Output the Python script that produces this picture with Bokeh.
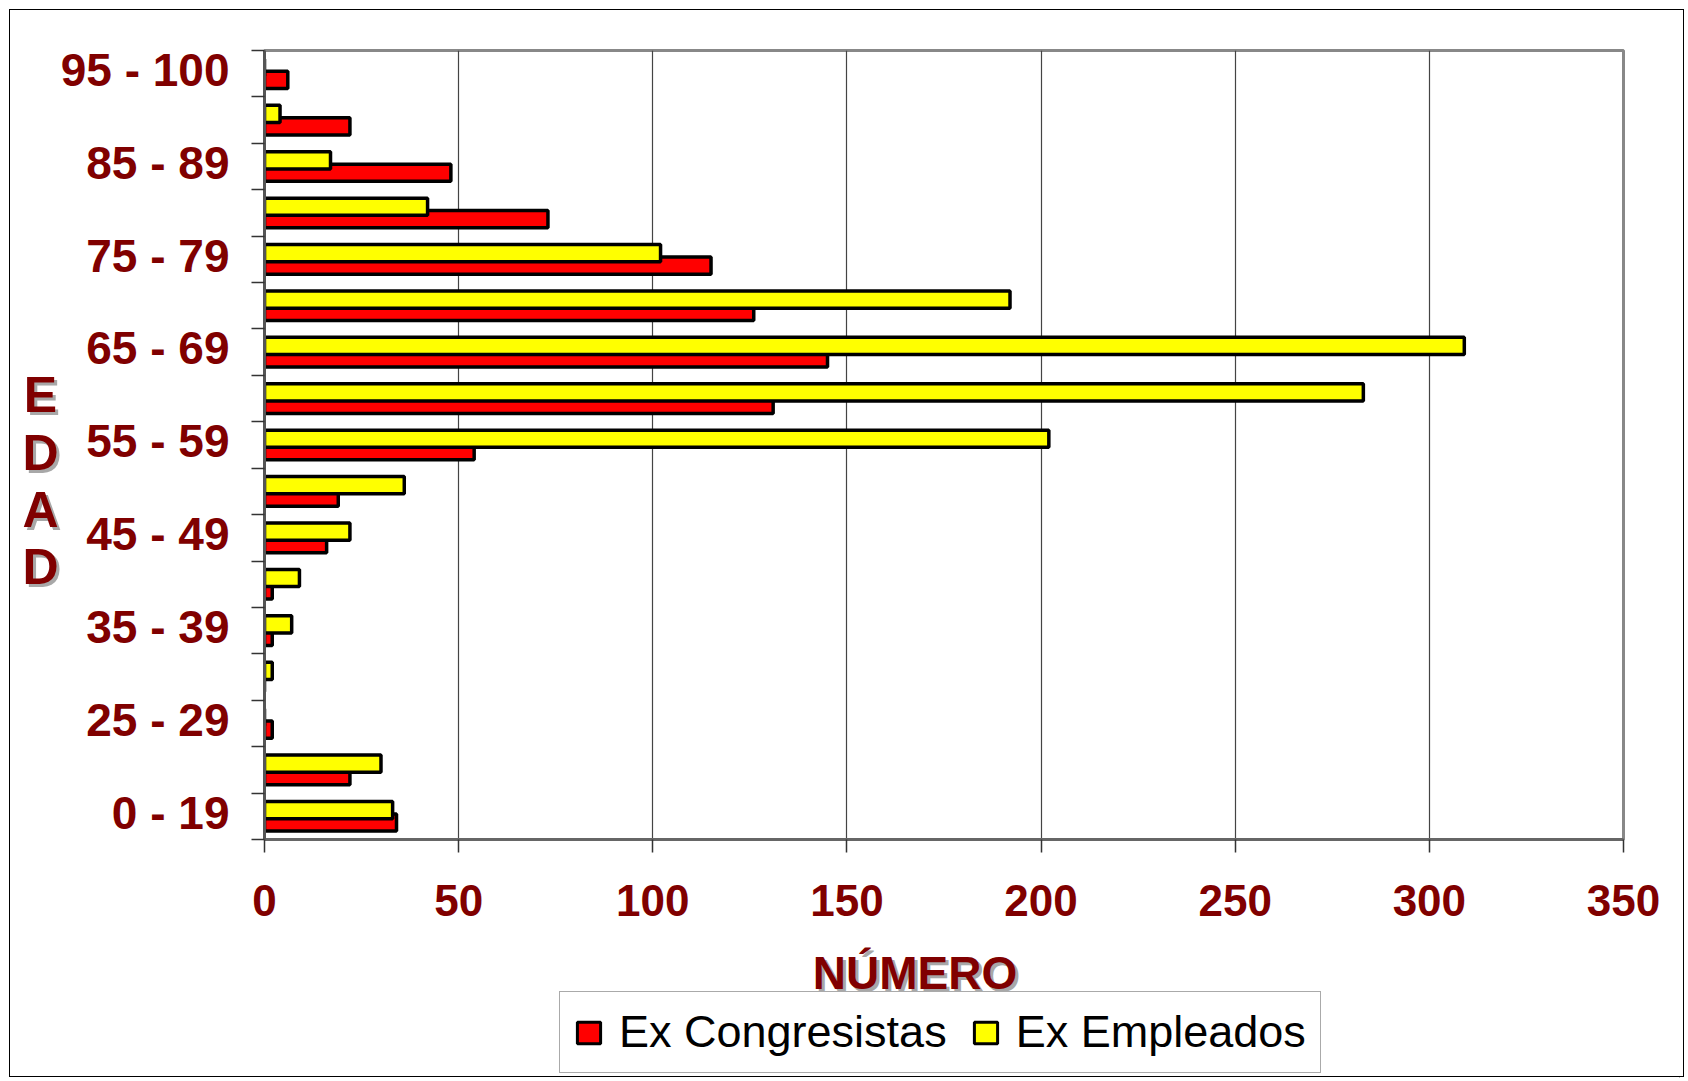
from bokeh.plotting import figure
from bokeh.models import Range1d, FixedTicker, Label, Legend, LegendItem, ColumnDataSource
from bokeh.embed import file_html
from bokeh.resources import INLINE

# ---- data ----
categories = ["0 - 19", "20 - 24", "25 - 29", "30 - 34", "35 - 39", "40 - 44",
              "45 - 49", "50 - 54", "55 - 59", "60 - 64", "65 - 69", "70 - 74",
              "75 - 79", "80 - 84", "85 - 89", "90 - 94", "95 - 100"]
ex_congresistas = [34, 22, 2, 0, 2, 2, 16, 19, 54, 131, 145, 126, 115, 73, 48, 22, 6]
ex_empleados = [33, 30, 0, 2, 7, 9, 22, 36, 202, 283, 309, 192, 102, 42, 17, 4, 0]
x_ticks = [0, 50, 100, 150, 200, 250, 300, 350]
series_names = ["Ex Congresistas", "Ex Empleados"]
x_title = "NÚMERO"
y_title = "EDAD"

DARK_RED = "#800000"
SHADOW = "#a8a8a8"
FONT = "Liberation Sans"
RED = "#FF0000"
YELLOW = "#FFFF00"

n = len(categories)
centers = [i + 0.5 for i in range(n)]
shift = 0.134
bar_h = 0.37
src = ColumnDataSource(dict(
    y_red=[c - shift for c in centers],
    y_yel=[c + shift for c in centers],
    red=ex_congresistas,
    yel=ex_empleados,
))

# ---------------- main chart ----------------
p = figure(width=1675, height=1068,
           x_range=Range1d(0, 350), y_range=Range1d(0, n),
           output_backend="svg", toolbar_location=None,
           min_border_left=254, min_border_right=62,
           min_border_top=40, min_border_bottom=239,
           background_fill_color="white", border_fill_color="white",
           styles={"border": "1.5px solid black",
                   "margin-left": "9px", "margin-top": "9px"})
p.title.visible = False

p.hbar(y="y_red", left=0, right="red", height=bar_h, source=src,
       fill_color=RED, line_color="black", line_width=3.5)
p.hbar(y="y_yel", left=0, right="yel", height=bar_h, source=src,
       fill_color=YELLOW, line_color="black", line_width=3.5)

p.outline_line_color = "#888888"
p.outline_line_width = 3

xa = p.xaxis[0]
xa.ticker = FixedTicker(ticks=x_ticks)
xa.major_label_text_font = FONT
xa.major_label_text_font_style = "bold"
xa.major_label_text_font_size = "44px"
xa.major_label_text_color = DARK_RED
xa.major_tick_out = 13
xa.major_tick_in = 0
xa.minor_tick_out = 0
xa.minor_tick_in = 0
xa.major_tick_line_color = "#333333"
xa.major_tick_line_width = 1.5
xa.axis_line_color = "#666666"
xa.axis_line_width = 3
xa.major_label_standoff = 32

ya = p.yaxis[0]
lab_idx = list(range(0, n, 2))
label_ticks = [centers[i] + 0.08 for i in lab_idx]
ya.ticker = FixedTicker(ticks=label_ticks, minor_ticks=list(range(n + 1)))
ya.major_label_overrides = {t: categories[i] for t, i in zip(label_ticks, lab_idx)}
ya.major_label_text_font = FONT
ya.major_label_text_font_style = "bold"
ya.major_label_text_font_size = "46px"
ya.major_label_text_color = DARK_RED
ya.major_tick_out = 0
ya.major_tick_in = 0
ya.minor_tick_out = 13
ya.minor_tick_in = 0
ya.minor_tick_line_color = "#333333"
ya.minor_tick_line_width = 1.5
ya.axis_line_color = "#555555"
ya.axis_line_width = 3
ya.major_label_standoff = 22

p.ygrid.visible = False
p.xgrid.ticker = FixedTicker(ticks=x_ticks)
p.xgrid.grid_line_color = "#444444"
p.xgrid.grid_line_width = 1.2

# ---------------- overlay: titles and legend (page pixel coordinates) ----------------
OW, OH = 1680, 1078
ov = figure(width=OW, height=OH, x_range=Range1d(0, OW), y_range=Range1d(OH, 0),
            output_backend="svg", toolbar_location=None,
            x_axis_type=None, y_axis_type=None,
            min_border=0, outline_line_color=None,
            background_fill_alpha=0, border_fill_alpha=0,
            styles={"position": "absolute", "left": "0px", "top": "0px",
                    "pointer-events": "none"})
ov.title.visible = False
ov.xgrid.visible = False
ov.ygrid.visible = False

# legend swatch renderers carry the series styles (kept outside the visible range)
far = 10 * OW
lr = ov.hbar(y=[far], left=[far], right=[far + ex_congresistas[0]], height=1,
             fill_color=RED, line_color="black", line_width=3)
ly = ov.hbar(y=[far], left=[far], right=[far + ex_empleados[0]], height=1,
             fill_color=YELLOW, line_color="black", line_width=3)
legend = Legend(items=[LegendItem(label=series_names[0], renderers=[lr]),
                       LegendItem(label=series_names[1], renderers=[ly])],
                location=(559, 5), orientation="horizontal",
                label_text_font=FONT, label_text_font_size="45px",
                label_text_color="black",
                glyph_width=29, glyph_height=27, label_standoff=16,
                spacing=24, padding=14, margin=0,
                border_line_color="#555555", border_line_width=1.5,
                background_fill_color="white", background_fill_alpha=1)
ov.add_layout(legend, "center")

# x title with shadow (overlay level so it overlaps the legend's top edge)
for col, d in [(SHADOW, 3), (DARK_RED, 0)]:
    ov.add_layout(Label(x=914.5 + d, y=972 + d, text=x_title, text_align="center",
                        text_baseline="alphabetic", text_font=FONT,
                        text_font_style="bold", text_font_size="46px",
                        text_color=col, level="overlay"))

# y title: stacked letters with shadow
letter_base = [394, 452, 509, 566]
for ch, yy in zip(y_title, letter_base):
    for col, d in [(SHADOW, 3), (DARK_RED, 0)]:
        ov.add_layout(Label(x=40 + d, y=yy + d, text=ch, text_align="center",
                            text_baseline="alphabetic", text_font=FONT,
                            text_font_style="bold", text_font_size="50px",
                            text_color=col, level="overlay"))

open("out.html", "w").write(file_html([p, ov], INLINE))
